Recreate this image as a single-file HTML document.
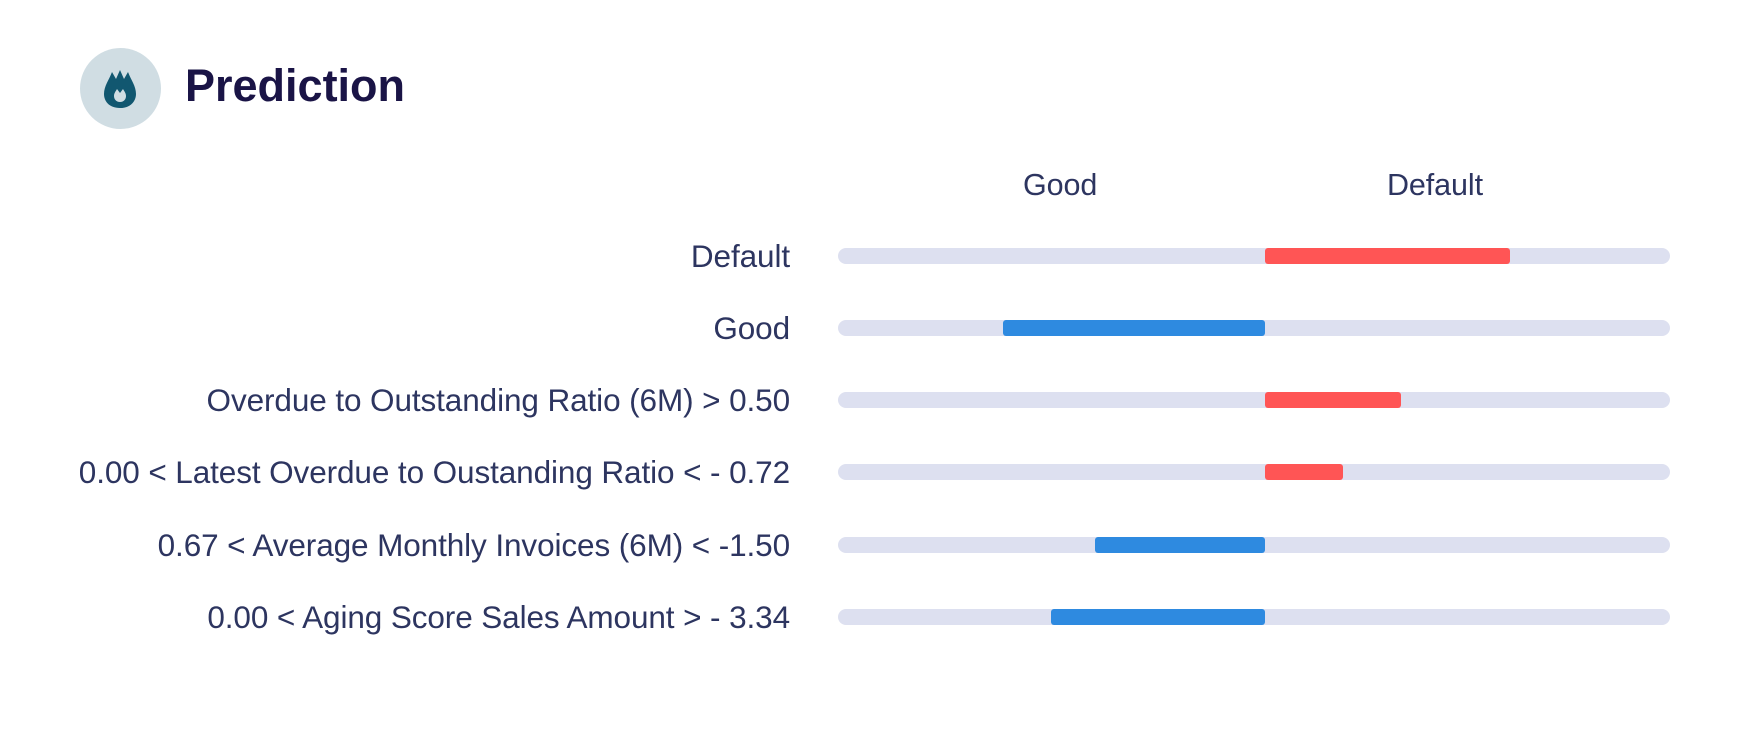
<!DOCTYPE html>
<html><head><meta charset="utf-8"><style>
body{margin:0;width:1752px;height:731px;background:#fff;font-family:"Liberation Sans",sans-serif;position:relative;overflow:hidden}
.t{position:absolute;color:#2d3560;font-size:31.5px;white-space:nowrap;letter-spacing:-0.1px}
.lbl{right:962px;text-align:right}
.track{position:absolute;left:838px;width:832px;height:16px;border-radius:8px;background:#dde0f0}
.bar{position:absolute;height:16px;border-radius:3px}
.r{background:#ff5555}.b{background:#2e8ae0}
</style></head><body>
<div style="position:absolute;left:80px;top:48px;width:81px;height:81px;border-radius:50%;background:#d0dde3"></div>
<svg style="position:absolute;left:100px;top:66px" width="40" height="46" viewBox="0 0 40 46">
<path d="M20 42 C9 42 4 35 4 28 C4 20 9 14 12 6 L16 13 L20 4 L24 13 L28 6 C31 14 36 20 36 28 C36 35 31 42 20 42 Z" fill="#115770"/>
<path d="M20 36 C16 36 14 33 14 30 C14 27 16 25 17 23 L20 27 L23 23 C24 25 26 27 26 30 C26 33 24 36 20 36 Z" fill="#d0dde3"/>
</svg>
<div style="position:absolute;left:185px;top:60px;font-size:45px;font-weight:bold;color:#1a1446">Prediction</div>
<div class="t" style="left:1023px;top:168px;font-size:30.5px">Good</div>
<div class="t" style="left:1387px;top:168px;font-size:30.5px">Default</div>

<div class="t lbl" style="top:238px">Default</div>
<div class="track" style="top:248px"></div><div class="bar r" style="top:248px;left:1265px;width:245px"></div>

<div class="t lbl" style="top:310px">Good</div>
<div class="track" style="top:320px"></div><div class="bar b" style="top:320px;left:1003px;width:262px"></div>

<div class="t lbl" style="top:382px">Overdue to Outstanding Ratio (6M) &gt; 0.50</div>
<div class="track" style="top:392px"></div><div class="bar r" style="top:392px;left:1265px;width:136px"></div>

<div class="t lbl" style="top:454px">0.00 &lt; Latest Overdue to Oustanding Ratio &lt; - 0.72</div>
<div class="track" style="top:464px"></div><div class="bar r" style="top:464px;left:1265px;width:78px"></div>

<div class="t lbl" style="top:527px">0.67 &lt; Average Monthly Invoices (6M) &lt; -1.50</div>
<div class="track" style="top:537px"></div><div class="bar b" style="top:537px;left:1095px;width:170px"></div>

<div class="t lbl" style="top:599px">0.00 &lt; Aging Score Sales Amount &gt; - 3.34</div>
<div class="track" style="top:609px"></div><div class="bar b" style="top:609px;left:1051px;width:214px"></div>
</body></html>
